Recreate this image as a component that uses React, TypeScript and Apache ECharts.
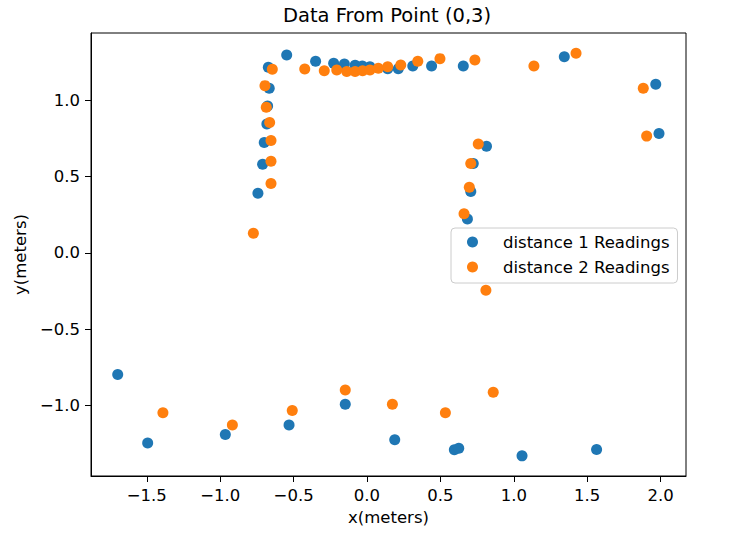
import React, { useEffect, useRef } from "react";
import * as echarts from "echarts";

const titleText = "Data From Point (0,3)";
const xName = "x(meters)";
const yName = "y(meters)";
const seriesNames = ["distance 1 Readings", "distance 2 Readings"];
const colors = ["#1f77b4", "#ff7f0e"];

const xTicks = [-1.5, -1.0, -0.5, 0.0, 0.5, 1.0, 1.5, 2.0];
const yTicks = [-1.0, -0.5, 0.0, 0.5, 1.0];
const xRange = [-1.88, 2.173];
const yRange = [-1.462, 1.442];

const d1x = [-0.547, -0.672, -0.35, -0.227, -0.154, -0.081, -0.032, 0.02, 0.141, 0.213, 0.312, 0.44, 0.656, 1.344, 1.967, 1.989,
  -0.666, -0.677, -0.682, -0.7, -0.711, -0.743, 0.814, 0.724, 0.707, 0.684,
  -1.698, -1.494, -0.965, -0.531, -0.148, 0.189, 0.595, 0.625, 1.056, 1.564];
const d1y = [1.298, 1.217, 1.257, 1.244, 1.239, 1.230, 1.226, 1.221, 1.208, 1.208, 1.226, 1.226, 1.226, 1.287, 1.106, 0.783,
  1.08, 0.964, 0.846, 0.724, 0.582, 0.392, 0.70, 0.586, 0.403, 0.222,
  -0.796, -1.245, -1.19, -1.127, -0.992, -1.225, -1.29, -1.28, -1.33, -1.289];

const d2x = [-0.645, -0.424, -0.291, -0.206, -0.138, -0.081, -0.03, 0.02, 0.077, 0.141, 0.23, 0.346, 0.497, 0.735, 1.137, 1.424, 1.882, 1.905,
  -0.695, -0.686, -0.663, -0.654, -0.654, -0.654, -0.774, 0.758, 0.707, 0.697, 0.661, 0.81,
  -1.39, -0.917, -0.509, -0.148, 0.173, 0.534, 0.86];
const d2y = [1.204, 1.206, 1.195, 1.2, 1.189, 1.189, 1.195, 1.2, 1.211, 1.221, 1.232, 1.257, 1.274, 1.265, 1.226, 1.309, 1.08, 0.766,
  1.097, 0.955, 0.855, 0.737, 0.602, 0.455, 0.130, 0.715, 0.586, 0.431, 0.257, -0.245,
  -1.047, -1.127, -1.033, -0.898, -0.992, -1.047, -0.913];

const FONT = "DejaVu Sans";
const fmt = (v: number) => (v < 0 ? "\u2212" : "") + Math.abs(v).toFixed(1);

export default function App() {
  const ref = useRef<HTMLDivElement>(null);
  useEffect(() => {
    if (!ref.current) return;
    const chart = echarts.init(ref.current, undefined, { renderer: "svg" });
    const pairs = (xs: number[], ys: number[]) => xs.map((x, i) => [x, ys[i]]);
    const axisCommon = {
      type: "value" as const,
      splitLine: { show: false },
      axisLine: { show: true, onZero: false, lineStyle: { color: "#000", width: 1 } },
      axisTick: { show: true, length: 6, lineStyle: { color: "#000" } },
      nameLocation: "middle" as const,
      nameTextStyle: { fontFamily: FONT, fontSize: 16.5, color: "#000" },
    };
    chart.setOption({
      animation: false,
      backgroundColor: "#fff",
      title: {
        text: titleText,
        left: 283,
        top: 5,
        padding: 0,
        textStyle: { fontFamily: FONT, fontSize: 19.5, fontWeight: "normal", color: "#000" },
      },
      grid: { left: 91, right: 43, top: 33, bottom: 62, show: true, borderColor: "#000", borderWidth: 1, backgroundColor: "transparent" },
      legend: {
        orient: "vertical",
        left: 451,
        top: 228,
        padding: [5, 8, 7, 16],
        itemWidth: 11,
        itemHeight: 11,
        itemGap: 7,
        icon: "circle",
        borderColor: "#cccccc",
        borderWidth: 1,
        borderRadius: 4,
        backgroundColor: "rgba(255,255,255,0.8)",
        textStyle: { fontFamily: FONT, fontSize: 16.5, color: "#000", lineHeight: 18, padding: [0, 0, 0, 20] },
        data: seriesNames,
      },
      xAxis: {
        ...axisCommon,
        min: xRange[0],
        max: xRange[1],
        name: xName,
        nameGap: 33,
        axisTick: { ...axisCommon.axisTick, customValues: xTicks },
        axisLabel: { customValues: xTicks, formatter: fmt, fontFamily: FONT, fontSize: 16.5, color: "#000", margin: 11 },
      },
      yAxis: {
        ...axisCommon,
        min: yRange[0],
        max: yRange[1],
        name: yName,
        nameGap: 62,
        axisTick: { ...axisCommon.axisTick, customValues: yTicks },
        axisLabel: { customValues: yTicks, formatter: fmt, fontFamily: FONT, fontSize: 16.5, color: "#000", margin: 11 },
      },
      series: [
        { name: seriesNames[0], type: "scatter", symbol: "circle", symbolSize: 11, itemStyle: { color: colors[0], opacity: 1 }, data: pairs(d1x, d1y) },
        { name: seriesNames[1], type: "scatter", symbol: "circle", symbolSize: 11, itemStyle: { color: colors[1], opacity: 1 }, data: pairs(d2x, d2y) },
      ],
    });
    return () => chart.dispose();
  }, []);
  return <div ref={ref} style={{ position: "absolute", left: 0, top: 0, width: 729, height: 538 }} />;
}
